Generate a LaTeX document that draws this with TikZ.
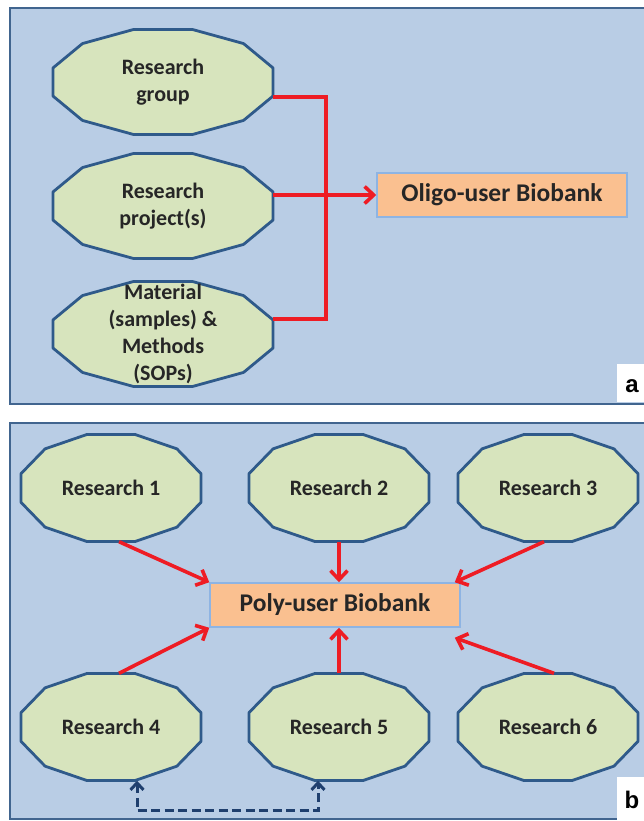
\documentclass[tikz,border=0pt]{standalone}
\usepackage{fontspec}
\setmainfont{Carlito}
\newfontfamily\panelfont{Liberation Sans}
\usetikzlibrary{arrows.meta,calc}

\definecolor{panelbg}{HTML}{B9CDE5}
\definecolor{panelrule}{HTML}{41658F}
\definecolor{octfill}{HTML}{D7E4BD}
\definecolor{octrule}{HTML}{2F5A8A}
\definecolor{bankfill}{HTML}{FAC090}
\definecolor{bankrule}{HTML}{8EB4E3}
\definecolor{linkred}{HTML}{EE1C24}
\definecolor{dashnavy}{HTML}{1F3F6E}
\definecolor{inktext}{HTML}{262626}

\tikzset{
  panel/.style={fill=panelbg,draw=panelrule,line width=2.5pt},
  octshape/.style={fill=octfill,draw=octrule,line width=2.8pt,line join=round},
  octlabel/.style={shape=rectangle,inner sep=0pt,align=center,text=inktext,
    font=\bfseries\fontsize{22}{27}\selectfont},
  bank/.style={shape=rectangle,fill=bankfill,draw=bankrule,line width=1.5pt,
    minimum width=250,minimum height=44,inner sep=0pt,text=inktext,
    font=\bfseries\fontsize{25.5}{27}\selectfont},
  redlink/.style={draw=linkred,line width=3.6pt,line join=miter},
  redarrow/.style={redlink,-{Straight Barb[length=9pt,width=17pt,line width=3.6pt]}},
  peerlink/.style={draw=dashnavy,line width=3pt,dash pattern=on 9pt off 4.5pt,
    {Straight Barb[length=7pt,width=13pt,line width=3pt]}-{Straight Barb[length=7pt,width=13pt,line width=3pt]}},
  tag/.style={fill=white,draw=none,text=black,inner sep=0pt,
    font=\panelfont\bfseries\fontsize{24}{24}\selectfont},
}

% twelve-sided badge: name, x, y, half width, half height, text
\newcommand\dodecagon[6]{%
  \filldraw[octshape,shift={(#2,#3)},xscale={#4*1.03528},yscale={#5*1.03528}]
    (15:1) -- (45:1) -- (75:1) -- (105:1) -- (135:1) -- (165:1) -- (195:1)
    -- (225:1) -- (255:1) -- (285:1) -- (315:1) -- (345:1) -- cycle;
  \node[octlabel,minimum width={2*#4},minimum height={2*#5}] (#1) at (#2,#3) {#6};
}

\begin{document}
\begin{tikzpicture}[x=1pt,y=-1pt]
  \useasboundingbox (0,0) rectangle (644,821);
  \fill[white] (0,0) rectangle (644,821);
  \clip (0,0) rectangle (644,821);

  % ---- panel a: oligo-user biobank ----
  \draw[panel] (10,8) rectangle (660,404);
  \fill[white] (617,364) rectangle (660,402);
  \node[tag,anchor=center] (taga) at (632,386) {a};

  \dodecagon{g1}{163}{82}{110}{52.5}{Research\\group}
  \dodecagon{g2}{163}{206}{110}{52.5}{Research\\project(s)}
  \dodecagon{g3}{163}{334}{110}{52.5}{Material\\(samples) \&\\Methods\\(SOPs)}

  \node[bank] (ob) at (502,195) {Oligo-user Biobank};

  \draw[redlink] ($(g1.east)+(0,15)$) -- ($(g1.east)+(53,15)$)
    -- ($(g3.east)+(53,-15)$) -- ($(g3.east)+(0,-15)$);
  \draw[redarrow] (g2.east |- ob.west) -- (ob.west);

  % ---- panel b: poly-user biobank ----
  \draw[panel] (10,423) rectangle (660,819);
  \fill[white] (617,777) rectangle (660,821);
  \node[tag,anchor=center] (tagb) at (632,800) {b};

  \dodecagon{r1}{111}{488}{90}{53.5}{Research 1}
  \dodecagon{r2}{339}{488}{90}{53.5}{Research 2}
  \dodecagon{r3}{548}{488}{90}{53.5}{Research 3}
  \dodecagon{r4}{111}{727}{90}{53.5}{Research 4}
  \dodecagon{r5}{339}{727}{90}{53.5}{Research 5}
  \dodecagon{r6}{548}{727}{90}{53.5}{Research 6}

  \node[bank] (pb) at (335,605) {Poly-user Biobank};

  \draw[redarrow] ($(r1.south)+(8,0)$) -- (pb.north west);
  \draw[redarrow] (r2.south) -- (r2.south |- pb.north);
  \draw[redarrow] ($(r3.south)+(-4,0)$) -- ($(pb.north east)+(-6,0)$);
  \draw[redarrow] ($(r4.north)+(8,0)$) -- (pb.south west);
  \draw[redarrow] (r5.north) -- (r5.north |- pb.south);
  \draw[redarrow] ($(r6.north)+(6,0)$) -- ($(pb.south east)+(-6,10)$);

  % exchange between two research groups
  \coordinate (dl) at ($(r4.south)+(26,30)$);
  \coordinate (dr) at ($(r5.south)+(-21,30)$);
  \draw[peerlink] ($(r4.south)+(26,0)$) -- (dl) -- (dr) -- ($(r5.south)+(-21,0)$);
\end{tikzpicture}
\end{document}
